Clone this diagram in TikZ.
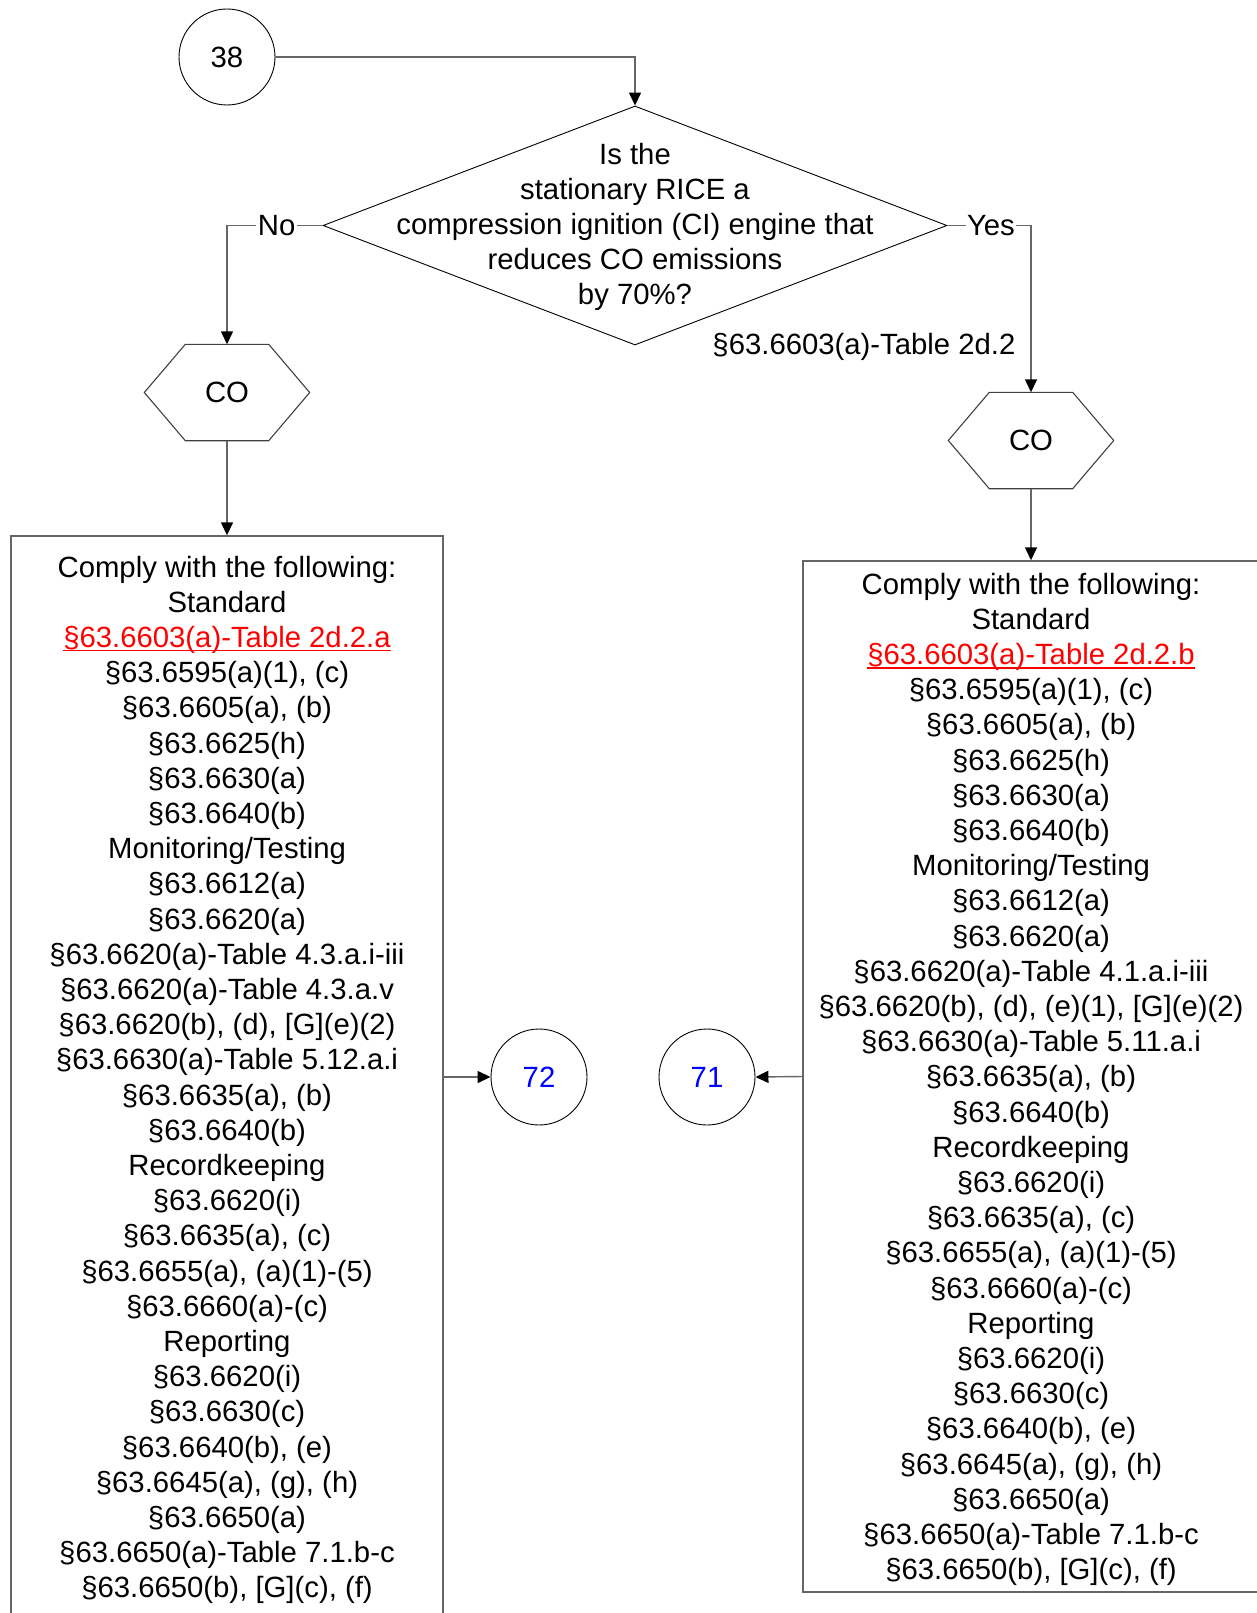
\documentclass[tikz,border=0pt]{standalone}
\usepackage{fontspec}
\setmainfont{Liberation Sans}
\usetikzlibrary{arrows.meta,shapes.geometric,calc}
\newsavebox\myulbox
\newcommand\ulred[1]{\textcolor{red}{\sbox\myulbox{#1}\rlap{\rule[-4pt]{\wd\myulbox}{1.5pt}}\usebox\myulbox}}
\newcommand\topstrut{\rule{0pt}{27pt}}
\tikzset{
  txt/.style={font=\fontsize{29.3pt}{35.2pt}\selectfont, text=black},
  conn/.style={draw=black!60, line width=1.4pt, -{Triangle[length=13pt,width=12pt,color=black]}},
  circ/.style={txt, circle, draw=black, line width=0.9pt, minimum size=96pt, inner sep=0pt},
  decision/.style={diamond, draw=black, line width=0.9pt, minimum width=624pt, minimum height=239pt, inner sep=0pt},
  hexbox/.style={txt, rectangle, minimum width=165pt, minimum height=96pt, inner sep=0pt},
  hexline/.style={draw=black!75, line width=1.1pt},
  listbox/.style={txt, rectangle, draw=black!60, line width=1.4pt, align=center, inner sep=0pt},
  lbl/.style={txt, fill=white, inner sep=1.5pt},
}
\begin{document}
\begin{tikzpicture}[x=1pt,y=-1pt]
\useasboundingbox (0,0) rectangle (1257,1613);

% start connector circle
\node[circ] (c38) at (227,57) {38};

% decision
\node[decision] (dia) at (635,225.5) {};
\node[txt, align=center] (diatxt) at (635,227) {Is the\\stationary RICE a\\compression ignition (CI) engine that\\reduces CO emissions\\by 70\%?};

% hexagons
\node[hexbox] (hexL) at (227,392.5) {CO};
\draw[hexline] (hexL.west) -- ($(hexL.north west)+(41,0)$) -- ($(hexL.north east)+(-41,0)$) -- (hexL.east) -- ($(hexL.south east)+(-41,0)$) -- ($(hexL.south west)+(41,0)$) -- cycle;
\node[hexbox] (hexR) at (1031,440.5) {CO};
\draw[hexline] (hexR.west) -- ($(hexR.north west)+(41,0)$) -- ($(hexR.north east)+(-41,0)$) -- (hexR.east) -- ($(hexR.south east)+(-41,0)$) -- ($(hexR.south west)+(41,0)$) -- cycle;

% boxes
\node[listbox, minimum width=432pt, minimum height=1082pt] (boxL) at (227,1077) {%
\topstrut Comply with the following:\\
Standard\\
\ulred{§63.6603(a)-Table 2d.2.a}\\
§63.6595(a)(1), (c)\\
§63.6605(a), (b)\\
§63.6625(h)\\
§63.6630(a)\\
§63.6640(b)\\
Monitoring/Testing\\
§63.6612(a)\\
§63.6620(a)\\
§63.6620(a)-Table 4.3.a.i-iii\\
§63.6620(a)-Table 4.3.a.v\\
§63.6620(b), (d), [G](e)(2)\\
§63.6630(a)-Table 5.12.a.i\\
§63.6635(a), (b)\\
§63.6640(b)\\
Recordkeeping\\
§63.6620(i)\\
§63.6635(a), (c)\\
§63.6655(a), (a)(1)-(5)\\
§63.6660(a)-(c)\\
Reporting\\
§63.6620(i)\\
§63.6630(c)\\
§63.6640(b), (e)\\
§63.6645(a), (g), (h)\\
§63.6650(a)\\
§63.6650(a)-Table 7.1.b-c\\
§63.6650(b), [G](c), (f)};

\node[listbox, minimum width=456pt, minimum height=1031pt] (boxR) at (1031,1076.5) {%
\topstrut Comply with the following:\\
Standard\\
\ulred{§63.6603(a)-Table 2d.2.b}\\
§63.6595(a)(1), (c)\\
§63.6605(a), (b)\\
§63.6625(h)\\
§63.6630(a)\\
§63.6640(b)\\
Monitoring/Testing\\
§63.6612(a)\\
§63.6620(a)\\
§63.6620(a)-Table 4.1.a.i-iii\\
§63.6620(b), (d), (e)(1), [G](e)(2)\\
§63.6630(a)-Table 5.11.a.i\\
§63.6635(a), (b)\\
§63.6640(b)\\
Recordkeeping\\
§63.6620(i)\\
§63.6635(a), (c)\\
§63.6655(a), (a)(1)-(5)\\
§63.6660(a)-(c)\\
Reporting\\
§63.6620(i)\\
§63.6630(c)\\
§63.6640(b), (e)\\
§63.6645(a), (g), (h)\\
§63.6650(a)\\
§63.6650(a)-Table 7.1.b-c\\
§63.6650(b), [G](c), (f)};

% off-page connectors
\node[circ, text=blue] (c72) at (539,1077) {72};
\node[circ, text=blue] (c71) at (707,1077) {71};

% label for yes branch
\node[txt, anchor=east] (yesref) at (1019,347) {§63.6603(a)-Table 2d.2};

% connectors
\draw[conn] (c38) -| (dia.north);
\draw[conn] (dia.west) -| node[pos=0.24, lbl] (nolbl) {No} (hexL.north);
\draw[conn] (dia.east) -| node[pos=0.26, lbl] (yeslbl) {Yes} (hexR.north);
\draw[conn] (hexL.south) -- (boxL.north);
\draw[conn] (hexR.south) -- (boxR.north);
\draw[conn] (boxL.east) -- (c72.west);
\draw[conn] (boxR.west) -- (c71.east);
\end{tikzpicture}
\end{document}
